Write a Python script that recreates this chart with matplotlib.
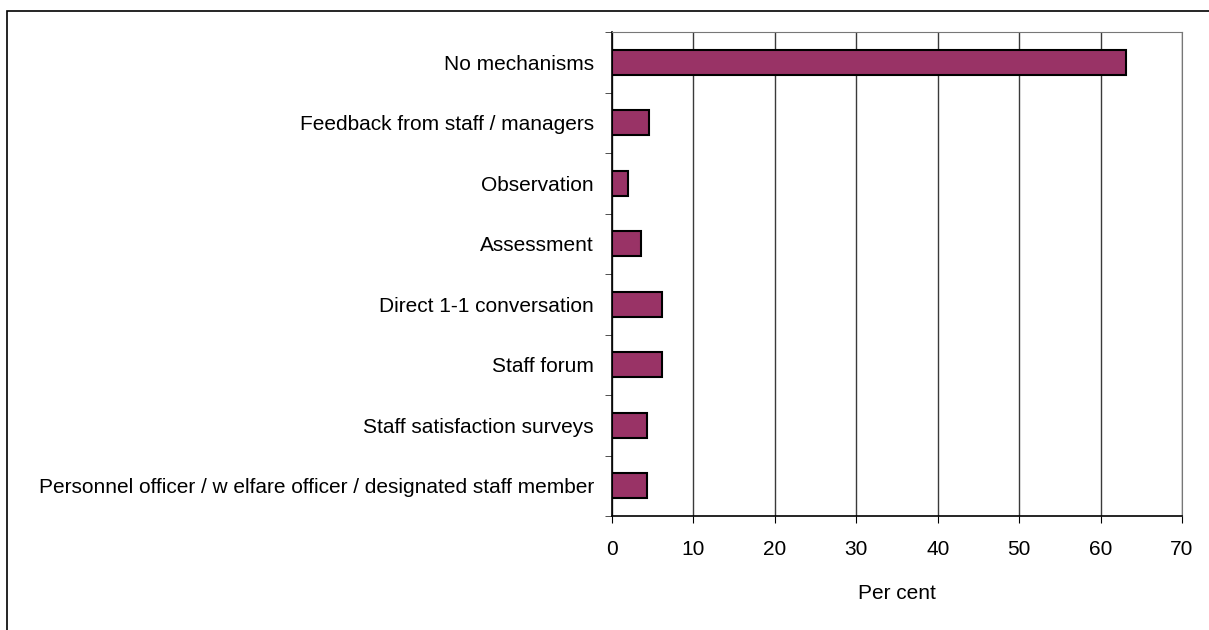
import matplotlib.pyplot as plt
from matplotlib.patches import Rectangle

# data (top to bottom as in the chart)
categories = ['No mechanisms',
              'Feedback from staff / managers',
              'Observation',
              'Assessment',
              'Direct 1-1 conversation',
              'Staff forum',
              'Staff satisfaction surveys',
              'Personnel officer / w elfare officer / designated staff member']
values = [63.1, 4.6, 2.0, 3.6, 6.2, 6.2, 4.3, 4.3]
xticks = [0, 10, 20, 30, 40, 50, 60, 70]

plt.rcParams['font.family'] = ['Liberation Sans', 'DejaVu Sans']

fig = plt.figure(figsize=(12.09, 6.3), dpi=100)

# outer frame
fig.patches.append(Rectangle((7 / 1209, -0.05), 1.1, 1 - 11 / 630 + 0.05,
                             transform=fig.transFigure, fill=False,
                             edgecolor='black', linewidth=1.2))

ax = fig.add_axes([612 / 1209, 1 - 516 / 630, 570 / 1209, 484 / 630])

n = len(categories)
ypos = list(range(n))[::-1]
ax.barh(ypos, values, height=0.42, color='#993366', edgecolor='black',
        linewidth=1.5, zorder=3)

ax.set_xlim(0, 70)
ax.set_ylim(-0.5, n - 0.5)
ax.set_xticks(xticks)
ax.set_xticklabels([str(t) for t in xticks], fontsize=15)
ax.xaxis.grid(True, color='#3a3a3a', linewidth=1.0, zorder=0)

# category labels at centres, ticks at boundaries
ax.set_yticks(ypos)
ax.set_yticklabels(categories, fontsize=15)
ax.tick_params(axis='y', which='major', length=0, pad=13)
ax.set_yticks([i - 0.5 for i in range(n + 1)], minor=True)
ax.tick_params(axis='y', which='minor', length=5, direction='out', color='#333333')
ax.tick_params(axis='x', length=5, direction='out', pad=12)

ax.spines['top'].set_color('#777777')
ax.spines['right'].set_color('#777777')
ax.spines['left'].set_linewidth(1.2)
ax.spines['bottom'].set_linewidth(1.2)

ax.set_xlabel('Per cent', fontsize=15, labelpad=18)

fig.savefig('out.png', dpi=100)
